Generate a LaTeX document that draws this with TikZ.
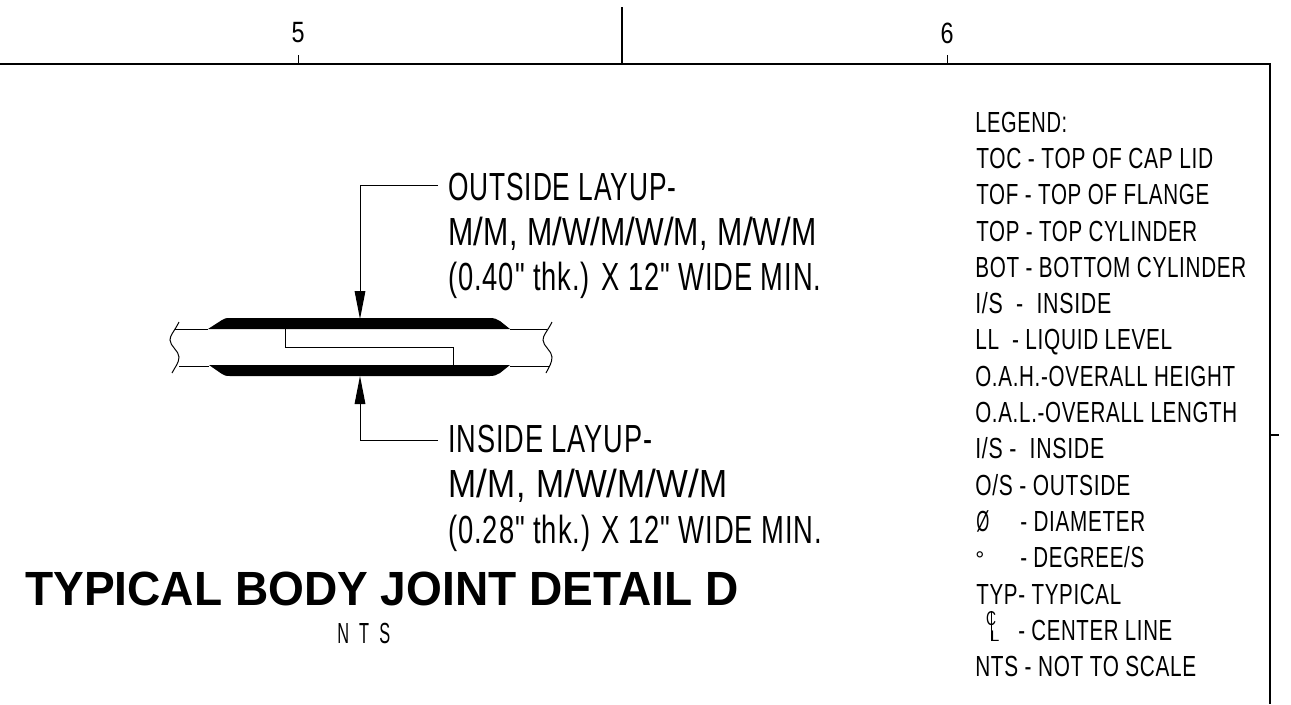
\documentclass[tikz,border=0pt]{standalone}
\usepackage{fontspec}
\usepackage{graphicx}
\setmainfont{Liberation Sans}
\newfontfamily\narrowf[FakeStretch=0.60,LetterSpace=2]{Liberation Sans}
\usetikzlibrary{arrows.meta}
\newcommand{\calloutfont}{\narrowf\fontsize{29.4}{32}\selectfont}
\newcommand{\legendfont}{\narrowf\fontsize{21.8}{24}\selectfont}
% set #2 to a width of #1 reference pixels, keeping its height
\newcommand{\fitw}[2]{\resizebox{\dimexpr #1pt*3/4\relax}{\height}{#2}}
\newcommand{\slh}{\scalebox{1.15}[1]{/}}
\tikzset{
  x=0.75pt,y=-0.75pt,
  frame/.style={line width=1.5pt,black},
  thin line/.style={line width=0.75pt,black},
  lead/.style={line width=0.75pt,black,-{Triangle[length=21pt,width=8pt]}},
  layup/.style={fill=black,draw=none},
  callout/.style={anchor=base west,inner sep=0pt,font=\calloutfont},
  legendtext/.style={anchor=base west,inner sep=0pt,font=\legendfont},
  ruler/.style={anchor=center,inner sep=0pt,font=\narrowf\fontsize{22}{24}\selectfont},
}
\begin{document}
\begin{tikzpicture}
\useasboundingbox (0,0) rectangle (1291,704);
\fill[white] (0,0) rectangle (1291,704);
% frame
\draw[frame] (0,64) -- (1270,64) -- (1270,704);
\draw[frame] (622,7) -- (622,64);
\draw[thin line] (298,55) -- (298,64);
\draw[thin line] (947,55) -- (947,64);
\draw[line width=1pt] (1270,435) -- (1279,435);
\node[ruler] (r5) at (298,33) {\fitw{13}{5}};
\node[ruler] (r6) at (947,33) {\fitw{13}{6}};
% joint
\path[layup] (208,329) -- (222,320) .. controls (224,318.5) and (226,318) .. (230,318) -- (490,318) .. controls (494,318) and (497,319) .. (500,321) -- (510,329) -- cycle;
\path[layup] (209,365) -- (222,374) .. controls (224,375.5) and (226,376) .. (230,376) -- (490,376) .. controls (494,376) and (497,375) .. (500,373) -- (510,365) -- cycle;
\draw[thin line] (175,329) -- (208,329);
\draw[thin line] (510,329) -- (547,329);
\draw[thin line] (179,366) -- (209,366);
\draw[thin line] (510,366) -- (549,366);
\draw[thin line] (285,329) -- (285,347) -- (453,347) -- (453,366);
\draw[thin line] (179,322) .. controls (174,332) and (170,335) .. (170,340) .. controls (170,346) and (179,351) .. (179,357) .. controls (179,363) and (175,367) .. (172,373);
\draw[thin line] (552,322) .. controls (547,332) and (543,335) .. (543,340) .. controls (543,346) and (552,351) .. (552,357) .. controls (552,363) and (549,367) .. (546,373);
% callouts
\coordinate (topstart) at (438,185);
\coordinate (topbend) at (360,185);
\coordinate (toptip) at (360,319);
\coordinate (botstart) at (438,440);
\coordinate (botbend) at (360,440);
\coordinate (bottip) at (360,376);
\draw[lead] (topstart) -- (topbend) -- (toptip);
\draw[lead] (botstart) -- (botbend) -- (bottip);
\node[callout] (o1) at (448,200) {\fitw{228}{OUTSIDE LAYUP-}};
\node[callout] (o2) at (448,245) {\fitw{368}{M\slh M, M\slh W\slh M\slh W\slh M, M\slh W\slh M}};
\node[callout] (o3) at (448,290) {\fitw{373}{(0.40" thk.) X 12" WIDE MIN.}};
\node[callout] (i1) at (448,452) {\fitw{204}{INSIDE LAYUP-}};
\node[callout] (i2) at (448,497) {\fitw{279}{M\slh M, M\slh W\slh M\slh W\slh M}};
\node[callout] (i3) at (448,543) {\fitw{374}{(0.28" thk.) X 12" WIDE MIN.}};
% title
\node[anchor=base west,inner sep=0pt,font=\bfseries\fontsize{36}{38}\selectfont] (title) at (25,605) {\fitw{713}{TYPICAL BODY JOINT DETAIL D}};
\node[anchor=base west,inner sep=0pt,font=\legendfont] (nts) at (337,643) {\fitw{53}{N\ \ T\ \ S}};
% legend
\node[legendtext] (l0) at (975,132) {\fitw{92}{LEGEND:}};
\node[legendtext] (l1) at (976,168) {\fitw{237}{TOC - TOP OF CAP LID}};
\node[legendtext] (l2) at (976,204) {\fitw{233}{TOF - TOP OF FLANGE}};
\node[legendtext] (l3) at (976,241) {\fitw{221}{TOP - TOP CYLINDER}};
\node[legendtext] (l4) at (975,277) {\fitw{271}{BOT - BOTTOM CYLINDER}};
\node[legendtext] (l5) at (975,313) {\fitw{136}{I/S\ \ -\ \ INSIDE}};
\node[legendtext] (l6) at (975,349) {\fitw{197}{LL\ \ - LIQUID LEVEL}};
\node[legendtext] (l7) at (975,386) {\fitw{260}{O.A.H.-OVERALL HEIGHT}};
\node[legendtext] (l8) at (975,422) {\fitw{262}{O.A.L.-OVERALL LENGTH}};
\node[legendtext] (l9) at (975,458) {\fitw{129}{I/S -\ \ INSIDE}};
\node[legendtext] (l10) at (975,495) {\fitw{155}{O/S - OUTSIDE}};
\node[legendtext] (l11) at (976,531) {\fitw{13}{Ø}};
\node[legendtext] (l11b) at (1020,531) {\fitw{125}{- DIAMETER}};
\node[anchor=base west,inner sep=0pt,font=\fontsize{17}{20}\selectfont] (l12) at (975,567) {°};
\node[legendtext] (l12b) at (1020,567) {\fitw{124}{- DEGREE/S}};
\node[legendtext] (l13) at (976,604) {\fitw{145}{TYP- TYPICAL}};
\node[anchor=base,inner sep=0pt,font=\narrowf\fontsize{15}{16}\selectfont] (cl1) at (991,625) {\fitw{10}{C}};
\node[anchor=base west,inner sep=0pt,font=\narrowf\fontsize{11.5}{14}\selectfont] (cl2) at (990,641) {\fitw{9}{L}};
\draw[line width=0.6pt] (cl1.north) -- (cl1.north |- cl2.south);
\node[legendtext] (l14b) at (1018,640) {\fitw{154}{- CENTER LINE}};
\node[legendtext] (l15) at (975,676) {\fitw{221}{NTS - NOT TO SCALE}};
\end{tikzpicture}
\end{document}
